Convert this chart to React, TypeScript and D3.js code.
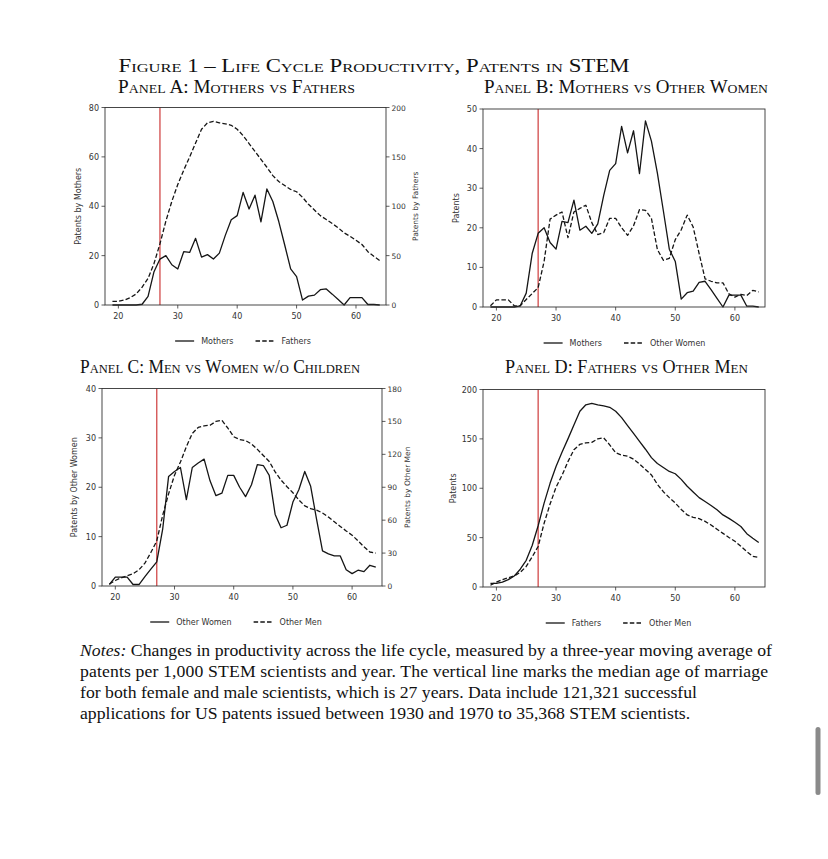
import { useEffect, useRef } from 'react';
import * as d3 from 'd3';

// ages 19..64, three-year moving averages
const ages = [
  19, 20, 21, 22, 23, 24, 25, 26, 27, 28, 29, 30, 31, 32, 33, 34, 35, 36, 37, 38, 39, 40, 41,
  42, 43, 44, 45, 46, 47, 48, 49, 50, 51, 52, 53, 54, 55, 56, 57, 58, 59, 60, 61, 62, 63, 64,
];
const mothers = [
  0, 0, 0, 0, 0, 0.3, 3.5, 13.5, 18.6, 20, 16.3, 14.6, 21.6, 21.3, 27, 19.4, 20.4, 18.6, 21, 28.2,
  34.5, 36.2, 45.6, 38.9, 44.5, 33.7, 47, 41.9, 33.8, 24.3, 14.6, 11.5, 2, 3.6, 4, 6.2, 6.5, 4.4,
  2.2, 0, 3, 3, 3, 0.2, 0.2, 0,
];
const fathers = [
  3.7, 3.7, 5, 7.5, 11.2, 18, 27, 42, 62, 85, 105, 122, 136.5, 150, 164, 178, 184.5, 186, 184.5,
  183.5, 182, 178, 171.5, 163.5, 155.5, 147.5, 139.5, 131, 125, 121, 117, 114.7, 109, 102, 96.2,
  90.5, 86.5, 82.5, 78.2, 73, 69.5, 65.5, 61.3, 54, 49.3, 45,
];
const otherWomen = [
  0.3, 1.8, 1.8, 1.8, 0.3, 0.3, 1.9, 3.4, 4.9, 11.5, 22.2, 23.2, 24, 17.5, 24, 24.9, 25.7, 21.3,
  18.3, 18.8, 22.4, 22.4, 20, 18.1, 20.5, 24.6, 24.4, 22.4, 14.5, 11.8, 12.3, 17, 19.5, 23.2, 20.2,
  13.5, 7.1, 6.5, 6.1, 6.1, 3.3, 2.5, 3.2, 2.9, 4.2, 3.8,
];
const otherMen = [
  1.8, 5, 7.5, 9.4, 11.2, 14.8, 20.8, 30.5, 41, 64.5, 84, 101, 113, 127, 139, 144.5, 146, 146.5,
  150, 151, 144, 136, 133.5, 132.5, 129.5, 124.5, 119, 113.5, 104, 96.5, 90.5, 85, 78.5, 73, 70.5,
  69.2, 66.5, 62.8, 58.5, 54.3, 50.2, 46.3, 41.2, 35.8, 31, 30,
];
const marriageAge = 27;
const xTicks = [20, 30, 40, 50, 60];

const figTitle = 'Figure 1 – Life Cycle Productivity, Patents in STEM';
const notes = [
  'Changes in productivity across the life cycle, measured by a three-year moving average of',
  'patents per 1,000 STEM scientists and year. The vertical line marks the median age of marriage',
  'for both female and male scientists, which is 27 years. Data include 121,321 successful',
  'applications for US patents issued between 1930 and 1970 to 35,368 STEM scientists.',
];

const W = 828;
const H = 859;

type Side = 'left' | 'right';
type Series = { name: string; values: number[]; dashed: boolean; side: Side };
type AxisCfg = { max: number; ticks: number[]; label: string; labelX: number };
type Panel = {
  title: string;
  titleX: number;
  titleY: number;
  titleW: number;
  box: { l: number; r: number; t: number; b: number };
  left: AxisCfg;
  right?: AxisCfg;
  series: Series[];
  legendX: number;
};

const panels: Panel[] = [
  {
    title: 'Panel A: Mothers vs Fathers',
    titleX: 236.5, titleY: 93, titleW: 237,
    box: { l: 105, r: 386, t: 107.5, b: 305 },
    left: { max: 80, ticks: [0, 20, 40, 60, 80], label: 'Patents by Mothers', labelX: 78 },
    right: { max: 200, ticks: [0, 50, 100, 150, 200], label: 'Patents by Fathers', labelX: 415 },
    series: [
      { name: 'Mothers', values: mothers, dashed: false, side: 'left' },
      { name: 'Fathers', values: fathers, dashed: true, side: 'right' },
    ],
    legendX: 243,
  },
  {
    title: 'Panel B: Mothers vs Other Women',
    titleX: 626, titleY: 93, titleW: 284,
    box: { l: 483, r: 765, t: 109, b: 307 },
    left: { max: 50, ticks: [0, 10, 20, 30, 40, 50], label: 'Patents', labelX: 456 },
    series: [
      { name: 'Mothers', values: mothers, dashed: false, side: 'left' },
      { name: 'Other Women', values: otherWomen, dashed: true, side: 'left' },
    ],
    legendX: 624.5,
  },
  {
    title: 'Panel C: Men vs Women w/o Children',
    titleX: 220, titleY: 373, titleW: 280,
    box: { l: 102, r: 382, t: 388.5, b: 586 },
    left: { max: 40, ticks: [0, 10, 20, 30, 40], label: 'Patents by Other Women', labelX: 74 },
    right: { max: 180, ticks: [0, 30, 60, 90, 120, 150, 180], label: 'Patents by Other Men', labelX: 407.5 },
    series: [
      { name: 'Other Women', values: otherWomen, dashed: false, side: 'left' },
      { name: 'Other Men', values: otherMen, dashed: true, side: 'right' },
    ],
    legendX: 236,
  },
  {
    title: 'Panel D: Fathers vs Other Men',
    titleX: 626.5, titleY: 373, titleW: 243,
    box: { l: 483, r: 765, t: 389.5, b: 587 },
    left: { max: 200, ticks: [0, 50, 100, 150, 200], label: 'Patents', labelX: 453 },
    series: [
      { name: 'Fathers', values: fathers, dashed: false, side: 'left' },
      { name: 'Other Men', values: otherMen, dashed: true, side: 'left' },
    ],
    legendX: 618.5,
  },
];

const serif = '"Liberation Serif", "Times New Roman", serif';
const sans = '"DejaVu Sans", sans-serif';
const axisCol = '#333';

export default function App() {
  const ref = useRef<SVGSVGElement>(null);

  useEffect(() => {
    if (!ref.current) return;
    const svg = d3.select(ref.current);
    svg.selectAll('*').remove();

    svg.append('rect').attr('width', W).attr('height', H).attr('fill', '#fff');

    // figure title
    svg.append('text')
      .attr('x', 374).attr('y', 72)
      .attr('text-anchor', 'middle')
      .attr('textLength', 511).attr('lengthAdjust', 'spacingAndGlyphs')
      .style('font-family', serif).style('font-size', '18px').style('font-variant', 'small-caps')
      .attr('fill', '#111')
      .text(figTitle);

    panels.forEach((p) => {
      const { l, r, t, b } = p.box;
      const g = svg.append('g');

      g.append('text')
        .attr('x', p.titleX).attr('y', p.titleY)
        .attr('text-anchor', 'middle')
        .attr('textLength', p.titleW).attr('lengthAdjust', 'spacingAndGlyphs')
        .style('font-family', serif).style('font-size', '18px').style('font-variant', 'small-caps')
        .attr('fill', '#111')
        .text(p.title);

      const x = d3.scaleLinear().domain([17.75, 65.05]).range([l, r]);
      const yL = d3.scaleLinear().domain([0, p.left.max]).range([b, t]);
      const yR = p.right ? d3.scaleLinear().domain([0, p.right.max]).range([b, t]) : yL;

      // x ticks
      xTicks.forEach((v) => {
        g.append('line').attr('x1', x(v)).attr('x2', x(v)).attr('y1', b).attr('y2', b + 3.5)
          .attr('stroke', axisCol).attr('stroke-width', 0.8);
        g.append('text').attr('x', x(v)).attr('y', b + 13.5).attr('text-anchor', 'middle')
          .style('font-family', sans).style('font-size', '8px').attr('fill', '#333')
          .text(v);
      });

      // left ticks
      p.left.ticks.forEach((v) => {
        g.append('line').attr('x1', l - 3.5).attr('x2', l).attr('y1', yL(v)).attr('y2', yL(v))
          .attr('stroke', axisCol).attr('stroke-width', 0.8);
        g.append('text').attr('x', l - 6).attr('y', yL(v) + 3).attr('text-anchor', 'end')
          .style('font-family', sans).style('font-size', '8px').attr('fill', '#333')
          .text(v);
      });
      g.append('text')
        .attr('transform', `translate(${p.left.labelX},${(t + b) / 2}) rotate(-90)`)
        .attr('text-anchor', 'middle').attr('dy', '0.35em')
        .style('font-family', sans).style('font-size', '8px').attr('fill', '#333')
        .text(p.left.label);

      if (p.right) {
        p.right.ticks.forEach((v) => {
          g.append('line').attr('x1', r).attr('x2', r + 3.5).attr('y1', yR(v)).attr('y2', yR(v))
            .attr('stroke', axisCol).attr('stroke-width', 0.8);
          g.append('text').attr('x', r + 5.5).attr('y', yR(v) + 3).attr('text-anchor', 'start')
            .style('font-family', sans).style('font-size', '7.5px').attr('fill', '#333')
            .text(v);
        });
        g.append('text')
          .attr('transform', `translate(${p.right.labelX},${(t + b) / 2}) rotate(-90)`)
          .attr('text-anchor', 'middle').attr('dy', '0.35em')
          .style('font-family', sans).style('font-size', '7.5px').attr('fill', '#333')
          .text(p.right.label);
      }

      // marriage line
      g.append('line')
        .attr('x1', x(marriageAge)).attr('x2', x(marriageAge)).attr('y1', t).attr('y2', b)
        .attr('stroke', '#d24a4a').attr('stroke-width', 1.3);

      // series
      p.series.forEach((s) => {
        const y = s.side === 'right' ? yR : yL;
        const line = d3.line<number>()
          .x((_, i) => x(ages[i]))
          .y((v) => y(v));
        g.append('path')
          .attr('d', line(s.values) || '')
          .attr('fill', 'none')
          .attr('stroke', '#151515')
          .attr('stroke-width', 1.3)
          .attr('stroke-linejoin', 'round')
          .attr('stroke-dasharray', s.dashed ? '4.5,2.2' : null);
      });

      // frame
      g.append('rect').attr('x', l).attr('y', t).attr('width', r - l).attr('height', b - t)
        .attr('fill', 'none').attr('stroke', axisCol).attr('stroke-width', 0.9);

      // legend below the panel
      const ly = b + 36;
      const lg = g.append('g');
      let cx = 0;
      p.series.forEach((s, i) => {
        if (i > 0) cx += 22;
        lg.append('line').attr('x1', cx).attr('x2', cx + 19).attr('y1', ly).attr('y2', ly)
          .attr('stroke', '#151515').attr('stroke-width', 1.3)
          .attr('stroke-dasharray', s.dashed ? '4.5,2.2' : null);
        const tx = lg.append('text').attr('x', cx + 26).attr('y', ly + 3)
          .style('font-family', sans).style('font-size', '8px').attr('fill', '#333')
          .text(s.name);
        const w = (tx.node() as SVGTextElement).getComputedTextLength();
        cx += 26 + w;
      });
      lg.attr('transform', `translate(${p.legendX - cx / 2},0)`);
    });

    // notes
    const nt = svg.append('g').style('font-family', serif).style('font-size', '17.7px').attr('fill', '#111');
    notes.forEach((line, i) => {
      const el = nt.append('text').attr('x', 80).attr('y', 656 + i * 21);
      if (i === 0) {
        el.append('tspan').style('font-style', 'italic').text('Notes:');
        el.append('tspan').text(' ' + line);
      } else {
        el.text(line);
      }
      if (i < 2) {
        el.attr('textLength', i === 0 ? 692 : 688).attr('lengthAdjust', 'spacing');
      }
    });

    // page scrollbar
    svg.append('rect').attr('x', 815.5).attr('y', 727).attr('width', 5).attr('height', 68)
      .attr('rx', 2.5).attr('fill', '#8a8a8a');
  }, []);

  return (
    <svg
      ref={ref}
      width={W}
      height={H}
      style={{ position: 'absolute', left: 0, top: 0, display: 'block' }}
    />
  );
}
